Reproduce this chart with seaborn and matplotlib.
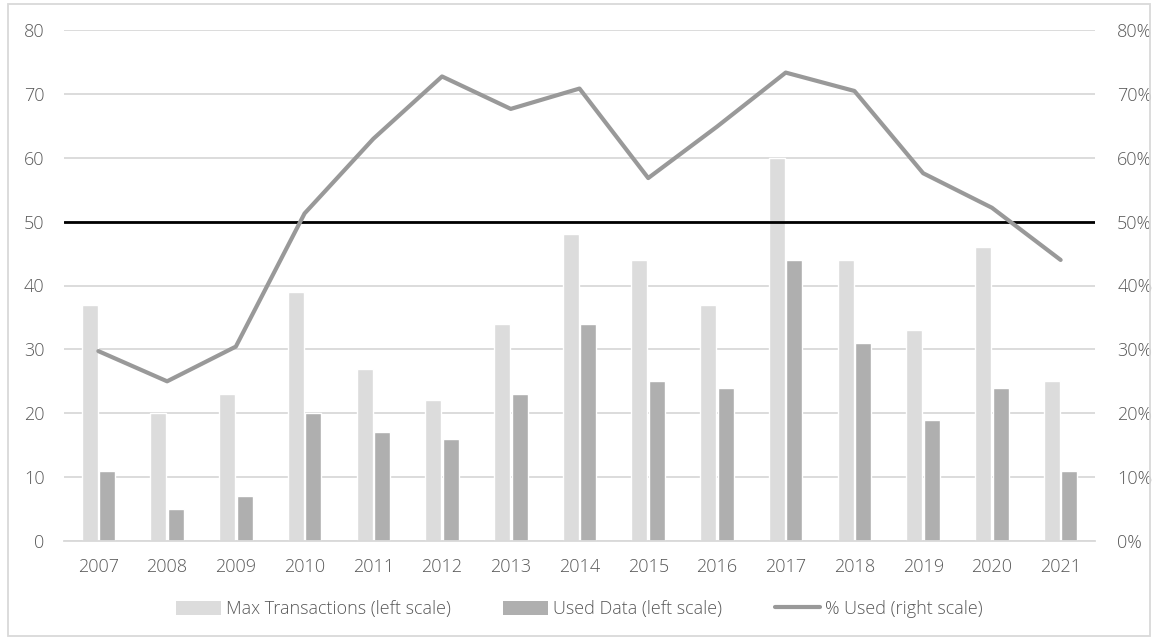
import numpy as np
import pandas as pd
import matplotlib
matplotlib.use("Agg")
import matplotlib.pyplot as plt
from matplotlib.patches import Rectangle, Patch
from matplotlib.lines import Line2D
from matplotlib.ticker import FuncFormatter
import seaborn as sns

years = ["2007", "2008", "2009", "2010", "2011", "2012", "2013", "2014",
         "2015", "2016", "2017", "2018", "2019", "2020", "2021"]
max_transactions = [37, 20, 23, 39, 27, 22, 34, 48, 44, 37, 60, 44, 33, 46, 25]
used_data = [11, 5, 7, 20, 17, 16, 23, 34, 25, 24, 44, 31, 19, 24, 11]
threshold = 50

label_max = "Max Transactions (left scale)"
label_used = "Used Data (left scale)"
label_pct = "% Used (right scale)"

c_max = "#dcdcdc"
c_used = "#afafaf"
c_line = "#999999"
c_text = "#595959"
c_grid = "#d9d9d9"
fs = 13

sns.set_theme(style="white")
plt.rcParams["font.family"] = ["Open Sans", "DejaVu Sans"]
plt.rcParams["font.weight"] = "light"
plt.rcParams["font.size"] = fs

bars = pd.DataFrame({
    "year": years * 2,
    "value": max_transactions + used_data,
    "series": [label_max] * len(years) + [label_used] * len(years),
})
pct = pd.DataFrame({
    "year": years,
    "pct": np.array(used_data) / np.array(max_transactions),
})

fig = plt.figure(figsize=(11.58, 6.43), dpi=100)
ax = fig.add_axes([64 / 1158, 1 - 541 / 643, (1095 - 64) / 1158, (541 - 30) / 643])

sns.barplot(data=bars, x="year", y="value", hue="series",
            palette=[c_max, c_used], width=0.51, gap=0.09,
            saturation=1, legend=False, ax=ax, zorder=2)

ax.set_ylim(0, 80)
ax.set_yticks(range(0, 81, 10))
ax.yaxis.grid(True, color=c_grid, linewidth=1.3, zorder=0)
ax.set_axisbelow(True)
ax.axhline(threshold, color="black", linewidth=2, zorder=3)
ax.set_xlabel("")
ax.set_ylabel("")
for side in ["top", "left", "right"]:
    ax.spines[side].set_visible(False)
ax.spines["bottom"].set_color(c_grid)
ax.spines["bottom"].set_linewidth(1.3)
ax.tick_params(axis="x", colors=c_text, labelsize=fs, length=0, pad=12)
ax.tick_params(axis="y", colors=c_text, labelsize=fs, length=0, pad=14)

ax2 = ax.twinx()
sns.lineplot(data=pct, x="year", y="pct", sort=False, color=c_line,
             linewidth=3, ax=ax2, zorder=4)
ax2.set_ylim(0, 0.8)
ax2.set_yticks(np.arange(0, 0.81, 0.1))
ax2.yaxis.set_major_formatter(FuncFormatter(lambda v, _: f"{v:.0%}"))
ax2.set_ylabel("")
ax2.set_xlabel("")
for side in ax2.spines:
    ax2.spines[side].set_visible(False)
ax2.tick_params(axis="y", colors=c_text, labelsize=fs, length=0, pad=16)
ax2.grid(False)
ax.set_xlim(-0.5, len(years) - 0.5)

handles = [
    Patch(facecolor=c_max, edgecolor="none", label=label_max),
    Patch(facecolor=c_used, edgecolor="none", label=label_used),
    Line2D([0], [0], color=c_line, linewidth=3, label=label_pct),
]
leg = fig.legend(handles=handles, loc="center", bbox_to_anchor=(0.5, 1 - 609 / 643),
                 ncol=3, frameon=False, fontsize=fs, handlelength=2.5,
                 handleheight=0.8, handletextpad=0.28, columnspacing=2.9)
for t in leg.get_texts():
    t.set_color(c_text)

fig.patches.append(Rectangle((8 / 1158, 1 - 636 / 643), 1142 / 1158, 632 / 643,
                             transform=fig.transFigure, fill=False,
                             edgecolor="#d9d9d9", linewidth=1.3))

fig.savefig("out.png", dpi=100, facecolor="white")
